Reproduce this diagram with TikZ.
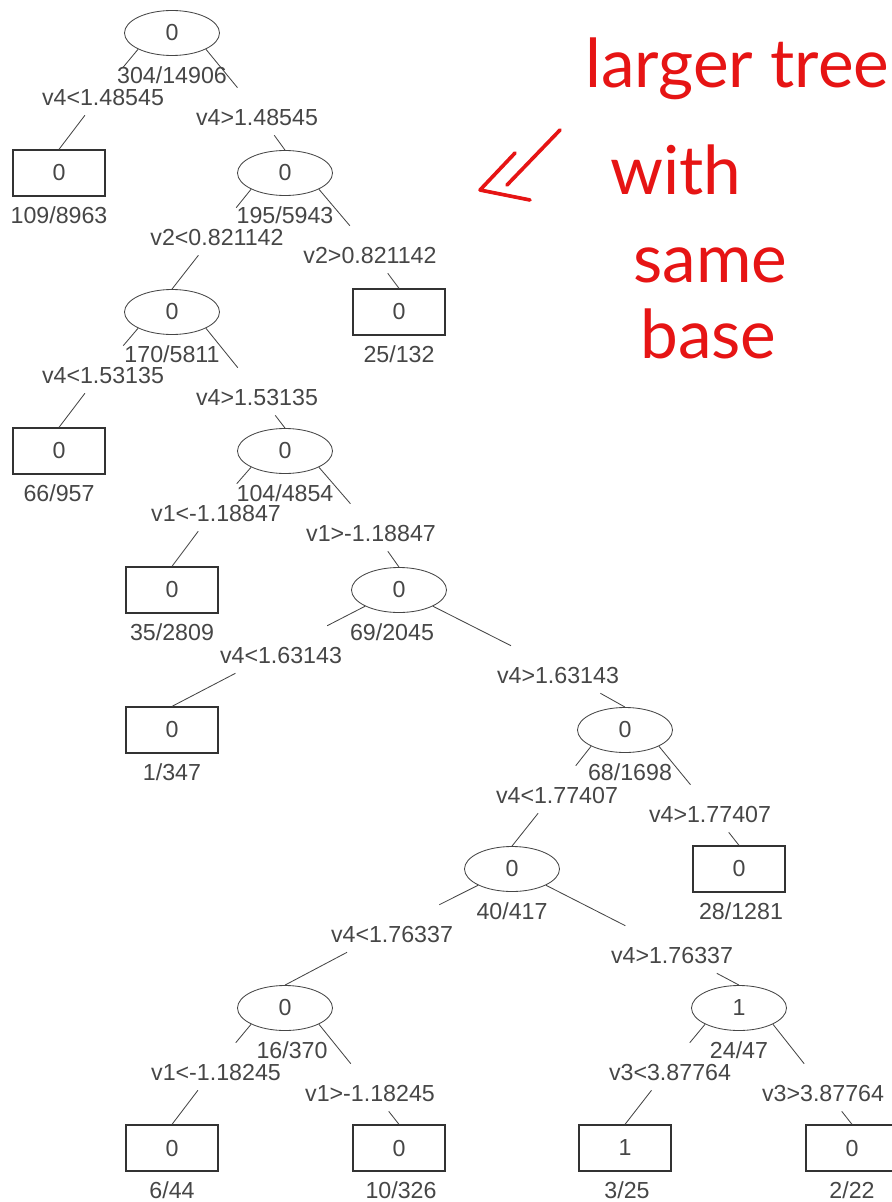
\documentclass[tikz,border=0pt]{standalone}
\usepackage{fontspec}
\setmainfont{Liberation Sans}
\newfontfamily\handfont{Lato}
\definecolor{inkred}{RGB}{230, 20, 20}
\definecolor{treegray}{RGB}{70, 70, 70}
\usetikzlibrary{shapes.geometric}

\begin{document}
\begin{tikzpicture}[x=0.025cm, y=-0.025cm,
  splitnode/.style={ellipse, draw=treegray, line width=0.6pt, minimum width=2.375cm, minimum height=1.125cm, inner sep=0pt, font=\fontsize{16.5}{18}\selectfont, text=treegray},
  leafnode/.style={rectangle, draw=black!80, line width=0.9pt, minimum width=2.3cm, minimum height=1.15cm, inner sep=0pt, font=\fontsize{16.5}{18}\selectfont, text=treegray},
  countlabel/.style={font=\fontsize{16.5}{18}\selectfont, text=treegray, inner sep=0pt},
  condlabel/.style={font=\fontsize{16.5}{18}\selectfont, text=treegray, inner sep=0pt, text height=0.925cm, text depth=0.25cm, anchor=base, yshift=-0.2cm},
  link/.style={draw=treegray, line width=0.6pt},
  handnote/.style={font=\handfont\fontsize{48}{50}\selectfont, text=inkred, anchor=base west, inner sep=0pt},
  notearrow/.style={draw=inkred, line width=2.6pt, line cap=round, line join=round}]
  \useasboundingbox (0,0) rectangle (892,1202);

  % Level 0
  \node[splitnode] (root) at (172,33) {0};
  \node[countlabel] (root-n) at (172,75) {304/14906};

  % Level 1
  \node[leafnode] (l1) at (59,173) {0};
  \node[countlabel] (l1-n) at (59,215) {109/8963};
  \node[splitnode] (n1) at (285,173) {0};
  \node[countlabel] (n1-n) at (285,215) {195/5943};

  % Level 2
  \node[splitnode] (n2) at (172,312) {0};
  \node[countlabel] (n2-n) at (172,354) {170/5811};
  \node[leafnode] (l2) at (399,312) {0};
  \node[countlabel] (l2-n) at (399,354) {25/132};

  % Level 3
  \node[leafnode] (l3) at (59,451) {0};
  \node[countlabel] (l3-n) at (59,493) {66/957};
  \node[splitnode] (n3) at (285,451) {0};
  \node[countlabel] (n3-n) at (285,493) {104/4854};

  % Level 4
  \node[leafnode] (l4) at (172,590) {0};
  \node[countlabel] (l4-n) at (172,632) {35/2809};
  \node[splitnode] (n4) at (399,590) {0};
  \node[countlabel] (n4-n) at (392,632) {69/2045};

  % Level 5
  \node[leafnode] (l5) at (172,730) {0};
  \node[countlabel] (l5-n) at (172,772) {1/347};
  \node[splitnode] (n5) at (625,730) {0};
  \node[countlabel] (n5-n) at (630,772) {68/1698};

  % Level 6
  \node[splitnode] (n6) at (512,869) {0};
  \node[countlabel] (n6-n) at (512,911) {40/417};
  \node[leafnode] (l6) at (739,869) {0};
  \node[countlabel] (l6-n) at (741,911) {28/1281};

  % Level 7
  \node[splitnode] (n7) at (285,1008) {0};
  \node[countlabel] (n7-n) at (292,1050) {16/370};
  \node[splitnode] (n8) at (739,1008) {1};
  \node[countlabel] (n8-n) at (739,1050) {24/47};

  % Level 8
  \node[leafnode] (l7) at (172,1148) {0};
  \node[countlabel] (l7-n) at (172,1190) {6/44};
  \node[leafnode] (l8) at (399,1148) {0};
  \node[countlabel] (l8-n) at (401,1190) {10/326};
  \node[leafnode] (l9) at (625,1148) {1};
  \node[countlabel] (l9-n) at (627,1190) {3/25};
  \node[leafnode] (l10) at (852,1148) {0};
  \node[countlabel] (l10-n) at (852,1190) {2/22};

  % Split conditions
  \node[condlabel] (c1) at (103,97) {v4<1.48545};
  \node[condlabel] (c2) at (257,117) {v4>1.48545};
  \node[condlabel] (c3) at (217,237) {v2<0.821142};
  \node[condlabel] (c4) at (370,255) {v2>0.821142};
  \node[condlabel] (c5) at (103,375) {v4<1.53135};
  \node[condlabel] (c6) at (257,397) {v4>1.53135};
  \node[condlabel] (c7) at (216,513) {v1<-1.18847};
  \node[condlabel] (c8) at (371,533) {v1>-1.18847};
  \node[condlabel] (c9) at (281,655) {v4<1.63143};
  \node[condlabel] (c10) at (558,675) {v4>1.63143};
  \node[condlabel] (c11) at (557,795) {v4<1.77407};
  \node[condlabel] (c12) at (710,814) {v4>1.77407};
  \node[condlabel] (c13) at (392,934) {v4<1.76337};
  \node[condlabel] (c14) at (672,955) {v4>1.76337};
  \node[condlabel] (c15) at (216,1072) {v1<-1.18245};
  \node[condlabel] (c16) at (370,1093) {v1>-1.18245};
  \node[condlabel] (c17) at (670,1072) {v3<3.87764};
  \node[condlabel] (c18) at (823,1093) {v3>3.87764};

  % Edges
  \draw[link] (root.south west) -- (c1) -- (l1.north);
  \draw[link] (root.south east) -- (c2) -- (n1.north);
  \draw[link] (n1.south west) -- (c3) -- (n2.north);
  \draw[link] (n1.south east) -- (c4) -- (l2.north);
  \draw[link] (n2.south west) -- (c5) -- (l3.north);
  \draw[link] (n2.south east) -- (c6) -- (n3.north);
  \draw[link] (n3.south west) -- (c7) -- (l4.north);
  \draw[link] (n3.south east) -- (c8) -- (n4.north);
  \draw[link] (n4.south west) -- (c9) -- (l5.north);
  \draw[link] (n4.south east) -- (c10) -- (n5.north);
  \draw[link] (n5.south west) -- (c11) -- (n6.north);
  \draw[link] (n5.south east) -- (c12) -- (l6.north);
  \draw[link] (n6.south west) -- (c13) -- (n7.north);
  \draw[link] (n6.south east) -- (c14) -- (n8.north);
  \draw[link] (n7.south west) -- (c15) -- (l7.north);
  \draw[link] (n7.south east) -- (c16) -- (l8.north);
  \draw[link] (n8.south west) -- (c17) -- (l9.north);
  \draw[link] (n8.south east) -- (c18) -- (l10.north);

  % Handwritten note
  \node[handnote] (note1) at (585,88) {larger tree};
  \node[handnote] (note2) at (610,195) {with};
  \node[handnote] (note3) at (633,282) {same};
  \node[handnote] (note4) at (640,358) {base};
  \coordinate (arrtail) at (560,130);
  \coordinate (arrtip) at (480,190);
  \draw[notearrow] (arrtail) -- (507,185);
  \draw[notearrow] (515,153) -- (arrtip) -- (530,200);
\end{tikzpicture}
\end{document}
